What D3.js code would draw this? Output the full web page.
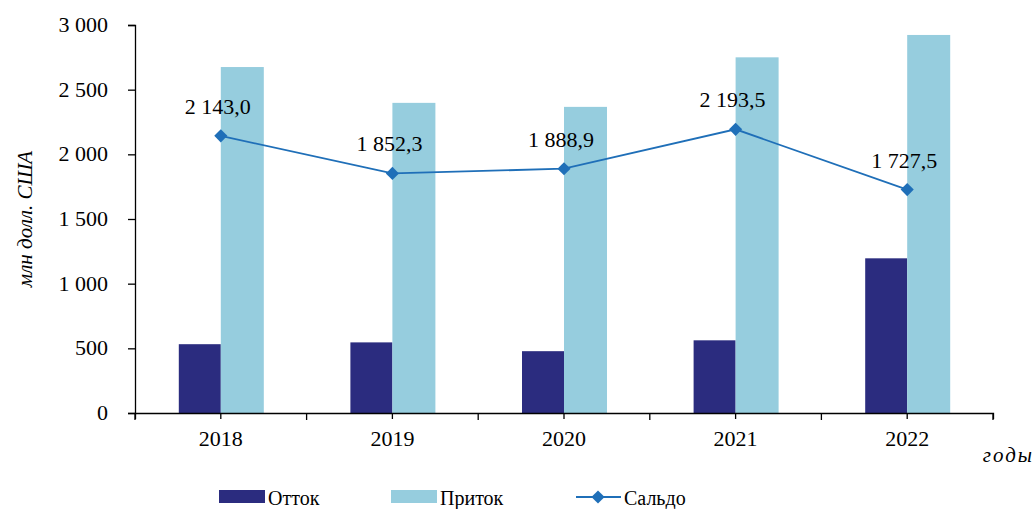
<!DOCTYPE html>
<html><head><meta charset="utf-8">
<script src="https://cdn.jsdelivr.net/npm/d3@7"></script>
<style>body{margin:0;background:#fff}svg{display:block}</style>
</head><body><svg id="c" width="1036" height="509" font-family="Times New Roman"></svg>
<script>
const years = ["2018","2019","2020","2021","2022"];
const outflow = [532, 546, 478, 562, 1196];
const inflow = [2675, 2398, 2367, 2750, 2923];
const saldo = [2143.0, 1852.3, 1888.9, 2193.5, 1727.5];
const yTicks = [0, 500, 1000, 1500, 2000, 2500, 3000];
const seriesNames = ["Отток", "Приток", "Сальдо"];
const colors = {out:"#2B2C7F", in:"#96CDDE", line:"#1F6FB8"};
const FONT = "Times New Roman";
const FS = 22;

const svg = d3.select("#c");
const m = {l:135, r:993, t:25, b:413};
const x = d3.scaleBand().domain(years).range([m.l, m.r]).paddingInner(0).paddingOuter(0);
const y = d3.scaleLinear().domain([0, 3000]).range([m.b, m.t]);
const bw = 42;
const fmt = v => { const s = v.toFixed(1).replace(".", ","); const [i, d] = s.split(","); return i.replace(/\B(?=(\d{3})+(?!\d))/g, " ") + "," + d; };
const fmtTick = v => String(v).replace(/\B(?=(\d{3})+(?!\d))/g, " ");
const txt = (g, px, py, s, anchor, italic, size) => {
  const t = g.append("text").attr("font-family", FONT).attr("font-size", size || FS).attr("fill", "#000")
    .attr("x", px).attr("y", py).attr("text-anchor", anchor || "start");
  if (italic) t.attr("font-style", "italic");
  return t.text(s);
};

// bars
years.forEach((yr, i) => {
  const c = x(yr) + x.bandwidth()/2;
  svg.append("rect").attr("x", c - bw).attr("y", y(outflow[i])).attr("width", bw).attr("height", y(0) - y(outflow[i])).attr("fill", colors.out);
  svg.append("rect").attr("x", c).attr("y", y(inflow[i])).attr("width", bw+1).attr("height", y(0) - y(inflow[i])).attr("fill", colors.in);
});

// y axis (lines from d3.axis, labels from the same scale)
const ya = svg.append("g").attr("transform", `translate(${m.l},0)`)
  .call(d3.axisLeft(y).tickValues(yTicks).tickSize(7).tickFormat(""));
ya.attr("font-family", null).attr("font-size", null);
ya.select(".domain").attr("stroke", "#000").attr("stroke-width", 1.3);
ya.selectAll(".tick line").attr("stroke", "#000").attr("stroke-width", 1.3);
ya.selectAll(".tick text").remove();
yTicks.forEach(v => txt(svg, m.l - 27, y(v) + 7, fmtTick(v), "end"));

// x axis
const xa = svg.append("g").attr("transform", `translate(0,${m.b})`)
  .call(d3.axisBottom(x).tickSize(6).tickFormat(""));
xa.attr("font-family", null).attr("font-size", null);
xa.select(".domain").attr("stroke", "#000").attr("stroke-width", 1.3);
xa.selectAll(".tick line").attr("stroke", "#000").attr("stroke-width", 1.3);
xa.selectAll(".tick text").remove();
years.forEach(yr => txt(svg, x(yr) + x.bandwidth()/2, m.b + 33, yr, "middle"));
const bounds = years.map(yr => x(yr)).concat([m.r]);
bounds.forEach(b => svg.append("line").attr("x1", b).attr("x2", b).attr("y1", m.b).attr("y2", m.b + 7).attr("stroke", "#000").attr("stroke-width", 1.3));

// line
const cx = i => x(years[i]) + x.bandwidth()/2;
svg.append("path").datum(saldo).attr("fill", "none").attr("stroke", colors.line).attr("stroke-width", 1.8)
  .attr("d", d3.line().x((d, i) => cx(i)).y(d => y(d)));
const diamond = d3.symbol().type(d3.symbolDiamond2).size(110);
saldo.forEach((v, i) => {
  svg.append("path").attr("d", diamond()).attr("transform", `translate(${cx(i)},${y(v)})`).attr("fill", colors.line);
  txt(svg, cx(i) - 3, y(v) - 22, fmt(v), "middle");
});

// axis titles
txt(svg, 0, 0, "млн долл. США", "middle", true, 21).attr("transform", "translate(32,219) rotate(-90)");
txt(svg, 1034, 462, "годы", "end", true, 21).attr("letter-spacing", 2);

// legend
const lg = svg.append("g");
lg.append("rect").attr("x", 219).attr("y", 490).attr("width", 46).attr("height", 13).attr("fill", colors.out);
txt(lg, 268, 505, seriesNames[0], "start", false, 20);
lg.append("rect").attr("x", 391).attr("y", 490).attr("width", 46).attr("height", 13).attr("fill", colors.in);
txt(lg, 440, 505, seriesNames[1], "start", false, 20);
lg.append("line").attr("x1", 576).attr("x2", 621).attr("y1", 497).attr("y2", 497).attr("stroke", colors.line).attr("stroke-width", 1.8);
lg.append("path").attr("d", diamond()).attr("transform", "translate(598,497)").attr("fill", colors.line);
txt(lg, 624, 505, seriesNames[2], "start", false, 20);
</script></body></html>
